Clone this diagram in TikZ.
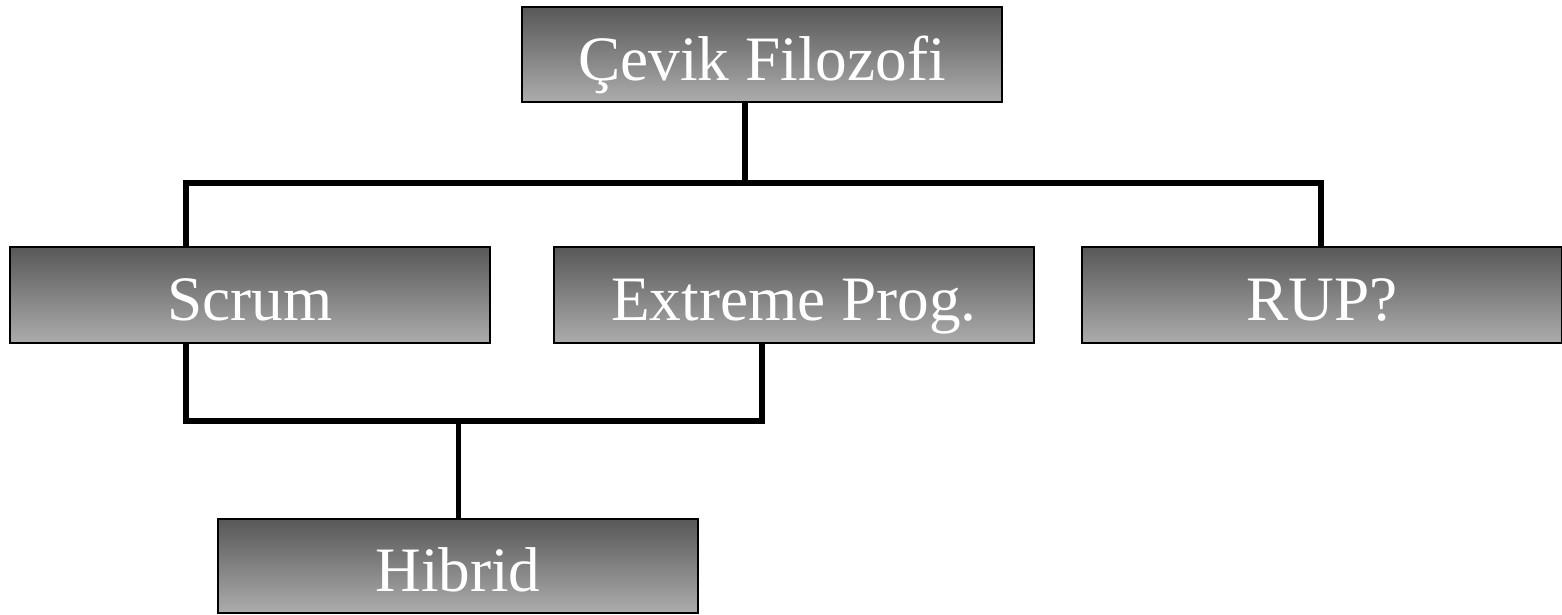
\documentclass[tikz,border=0pt]{standalone}
\usepackage{fontspec}
\setmainfont{Liberation Serif}
\definecolor{boxtop}{RGB}{88,88,88}
\definecolor{boxbottom}{RGB}{172,172,172}
\tikzset{
  stage/.style={draw=black, line width=0.9pt, top color=boxtop, bottom color=boxbottom,
    text=white, font=\fontsize{36}{40}\selectfont, minimum width=9.6cm, minimum height=1.92cm,
    inner sep=0pt, text height=32pt, text depth=2.5pt},
  link/.style={line width=3.2pt}
}
\begin{document}
\begin{tikzpicture}
    \useasboundingbox (0, 0) rectangle (31.24, 12.3);

    \node[stage, minimum height=1.9cm] (cevik) at (15.24, 11.21) {Çevik Filozofi};
    \node[stage] (scrum) at (5.0, 6.4) {Scrum};
    \node[stage] (extreme) at (15.88, 6.4) {Extreme Prog.};
    \node[stage] (rup) at (26.44, 6.4) {RUP?};
    \node[stage, minimum height=1.88cm] (hibrid) at (9.16, 0.98) {Hibrid};

    \coordinate (upbus) at (14.9, 8.64);
    \coordinate (lowbus) at (9.17, 3.88);

    \draw[link] (cevik.south -| upbus) -- (upbus);
    \draw[link] ([xshift=-1.28cm]scrum.north) |- (upbus) -| ([xshift=-0.02cm]rup.north);
    \draw[link] ([xshift=-1.28cm]scrum.south) |- (lowbus) -| ([xshift=-0.64cm]extreme.south);
    \draw[link] (lowbus) -- (lowbus |- hibrid.north);
\end{tikzpicture}
\end{document}
